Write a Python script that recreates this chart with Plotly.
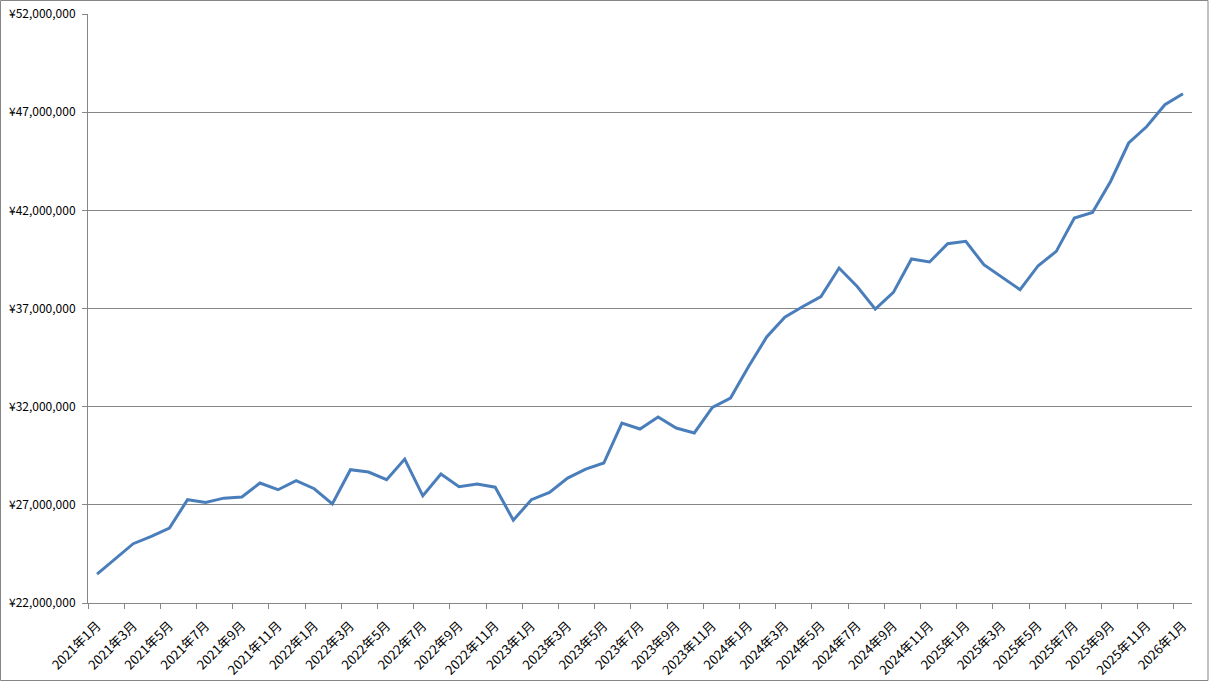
import plotly.graph_objects as go

months = [f"{y}年{m}月" for y in range(2021, 2027) for m in range(1, 13)][:61]
values_m = [
    23.47, 24.25, 25.02, 25.39, 25.82, 27.26, 27.12, 27.34, 27.40, 28.11,
    27.77, 28.23, 27.82, 27.05, 28.79, 28.67, 28.28, 29.33, 27.46, 28.57,
    27.92, 28.06, 27.90, 26.22, 27.26, 27.63, 28.36, 28.82, 29.13, 31.16,
    30.86, 31.47, 30.91, 30.66, 31.96, 32.44, 34.05, 35.55, 36.56, 37.10,
    37.61, 39.06, 38.12, 36.97, 37.82, 39.52, 39.37, 40.30, 40.42, 39.23,
    38.60, 37.96, 39.18, 39.91, 41.61, 41.89, 43.47, 45.43, 46.27, 47.38,
    47.94,
]
values = [round(v * 1_000_000) for v in values_m]
idx = list(range(len(months)))
tick_idx = idx[::2]
tick_text = [months[i] for i in tick_idx]
boundary_ticks = [i - 0.5 for i in tick_idx]

GRAY = "#868686"
fig = go.Figure(go.Scatter(
    x=idx, y=values, mode="lines",
    line=dict(color="#4a7ebb", width=3),
    hovertemplate="%{text}: ¥%{y:,}<extra></extra>", text=months,
))

L, R, T, B = 88, 18, 14, 79
W, H = 1210, 682
pw, ph = W - L - R, H - T - B

fig.update_layout(
    width=W, height=H,
    margin=dict(l=L, r=R, t=T, b=B, autoexpand=False),
    paper_bgcolor="white", plot_bgcolor="white",
    showlegend=False,
    font=dict(family="Noto Sans CJK JP", size=12, color="black"),
    xaxis=dict(
        range=[-0.5, len(months) - 0.5], automargin=False,
        tickmode="array", tickvals=tick_idx, ticktext=tick_text,
        tickangle=-45, ticks="", showgrid=False, zeroline=False,
        showline=True, linecolor=GRAY, linewidth=1,
        minor=dict(tickmode="array", tickvals=boundary_ticks, ticks="outside",
                   ticklen=5, tickcolor=GRAY, showgrid=False),
        ticklabelstandoff=9,
        tickfont=dict(size=13),
    ),
    yaxis=dict(
        range=[22_000_000, 52_000_000], dtick=5_000_000, tick0=22_000_000,
        tickprefix="¥", tickformat=",d", automargin=False,
        showgrid=True, gridcolor=GRAY, gridwidth=1, zeroline=False,
        showline=True, linecolor=GRAY, linewidth=1,
        ticks="outside", ticklen=5, tickcolor=GRAY, ticklabelstandoff=4,
        tickfont=dict(size=12),
    ),
    shapes=[dict(
        type="rect", xref="paper", yref="paper",
        x0=(0.5 - L) / pw, x1=(1208 - L) / pw,
        y0=(H - B - 680.5) / ph, y1=(H - B - 0.5) / ph,
        line=dict(color=GRAY, width=1), fillcolor="rgba(0,0,0,0)",
    )],
)

fig.write_html(
    "out.html",
    config={"displayModeBar": False},
    post_script="document.body.style.margin='0';document.body.style.overflow='hidden';",
)
